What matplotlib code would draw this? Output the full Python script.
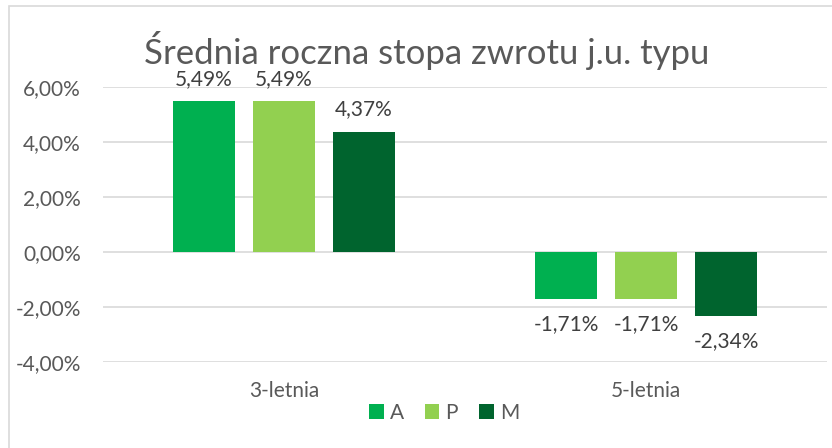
import matplotlib
matplotlib.use("Agg")
import matplotlib.pyplot as plt
import matplotlib.patches as mpatches
import numpy as np

plt.rcParams['font.family'] = ['Lato', 'DejaVu Sans']

categories = ['3-letnia', '5-letnia']
series_names = ['A', 'P', 'M']
values = {
    'A': [5.49, -1.71],
    'P': [5.49, -1.71],
    'M': [4.37, -2.34],
}
labels = {
    'A': ['5,49%', '-1,71%'],
    'P': ['5,49%', '-1,71%'],
    'M': ['4,37%', '-2,34%'],
}
colors = {'A': '#00B050', 'P': '#92D050', 'M': '#00642E'}
yticks = [-4, -2, 0, 2, 4, 6]

W, H = 832, 448
fig = plt.figure(figsize=(W / 100, H / 100), dpi=100)

# chart border (runs off the picture on the right and bottom)
fig.patches.append(mpatches.Rectangle((9 / W, -0.1), 1.1, 1 - 6 / H + 0.1,
                                      transform=fig.transFigure, fill=False,
                                      edgecolor='#D9D9D9', lw=1.2))

ax = fig.add_axes([103 / W, 1 - 362 / H, (827 - 103) / W, (362 - 87) / H])
ax.set_xlim(-0.5, 1.5)
ax.set_ylim(-4, 6)

x = np.arange(len(categories))
bw = 0.172
offs = [-0.221, 0, 0.221]
for s, o in zip(series_names, offs):
    ax.bar(x + o, values[s], bw, color=colors[s], label=s, zorder=3)
    for xi, v, t in zip(x, values[s], labels[s]):
        if v >= 0:
            ax.text(xi + o, v + 0.45, t, ha='center', va='bottom', fontsize=15, color='#404040')
        else:
            ax.text(xi + o, v - 0.55, t, ha='center', va='top', fontsize=15, color='#404040')

ax.set_yticks(yticks)
ax.yaxis.set_major_formatter(matplotlib.ticker.FuncFormatter(lambda v, p: ('%.2f%%' % v).replace('.', ',')))
ax.set_xticks(x)
ax.set_xticklabels(categories)
ax.tick_params(length=0, labelsize=15, labelcolor='#595959')
ax.tick_params(axis='y', pad=16)
ax.tick_params(axis='x', pad=14)
ax.grid(axis='y', color='#D9D9D9', lw=1.2, zorder=0)
for sp in ax.spines.values():
    sp.set_visible(False)

fig.text(427 / W, 1 - 50 / H, 'Średnia roczna stopa zwrotu j.u. typu', ha='center', va='center',
         fontsize=25, color='#595959')

ax.legend(loc='center', bbox_to_anchor=(444 / W, 1 - 413 / H), bbox_transform=fig.transFigure,
          ncol=3, frameon=False, fontsize=15, handlelength=0.7, handleheight=0.7,
          handletextpad=0.3, columnspacing=1.0, labelcolor='#595959')

fig.savefig('out.png', dpi=100)
